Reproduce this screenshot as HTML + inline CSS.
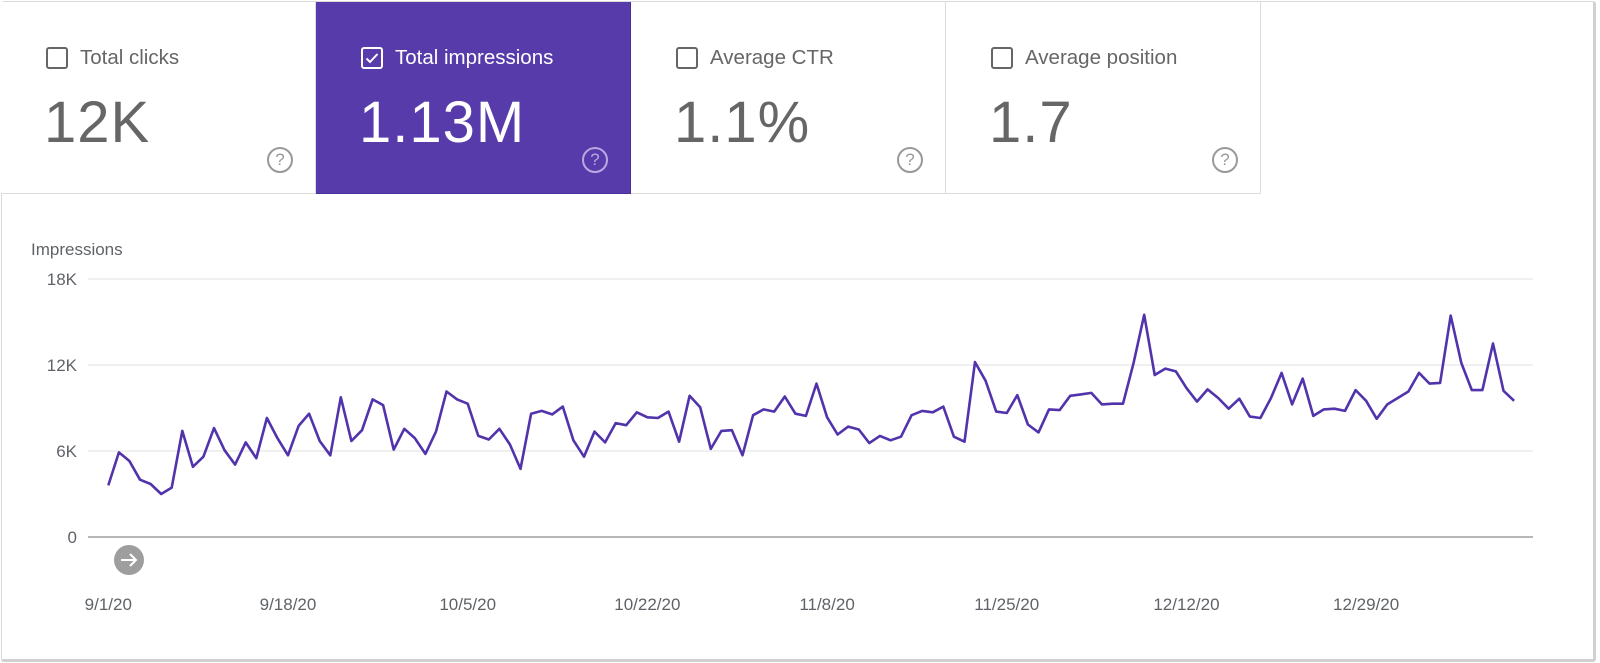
<!DOCTYPE html>
<html><head><meta charset="utf-8"><style>
*{margin:0;padding:0;box-sizing:border-box}
body{width:1600px;height:663px;background:#fff;font-family:"Liberation Sans",Arial,sans-serif;position:relative;overflow:hidden}
#frame{position:absolute;left:1px;top:1px;width:1595px;height:661px;border:1px solid #dadada;border-right:3px solid #d0d0d0;border-bottom:3px solid #d0d0d0;border-radius:3px}
.card{position:absolute;top:2px;height:192px;width:315px;border-right:1px solid #dcdcdc;border-bottom:1px solid #dcdcdc;background:#fff;color:#666}
.card.sel{background:#583bab;color:#fff;border-color:#4a2e9a}
.cb{position:absolute;left:45px;top:45px;width:22px;height:22px;border:2px solid #666;border-radius:3px}
.sel .cb{border-color:#fff}
.lbl{position:absolute;left:79px;top:44px;font-size:20.5px}
.val{position:absolute;left:43px;top:87px;font-size:58px;letter-spacing:1px}
.help{position:absolute;left:266px;top:145px;width:26px;height:26px;border:2px solid #999;border-radius:50%;text-align:center;font-size:17px;line-height:22px;color:#999}
.sel .help{border-color:#b9a8e2;color:#b9a8e2}
</style></head><body>
<div id="frame"></div>
<div class="card" style="left:1px"><div class="cb"></div><div class="lbl">Total clicks</div><div class="val">12K</div><div class="help">?</div></div>
<div class="card sel" style="left:316px"><div class="cb"><svg width="18" height="18" style="position:absolute;left:0;top:0"><path d="M3.5 9.5l3.5 3.5 7.5-8" stroke="#fff" stroke-width="2" fill="none"/></svg></div><div class="lbl">Total impressions</div><div class="val">1.13M</div><div class="help">?</div></div>
<div class="card" style="left:631px"><div class="cb"></div><div class="lbl">Average CTR</div><div class="val">1.1%</div><div class="help">?</div></div>
<div class="card" style="left:946px"><div class="cb"></div><div class="lbl">Average position</div><div class="val">1.7</div><div class="help">?</div></div>
<svg id="chart" width="1600" height="663" style="position:absolute;left:0;top:0" font-family="Liberation Sans, Arial, sans-serif">
<text x="31" y="255" font-size="17" fill="#5f6368">Impressions</text>
<g id="grid"></g><g id="xl"></g>
<polyline id="line" fill="none" stroke="#5133ab" stroke-width="2.6" stroke-linejoin="round"/>
<g><circle cx="129" cy="560" r="15" fill="#9e9e9e"/><path d="M121 560h15M130 554l6 6-6 6" stroke="#fff" stroke-width="2" fill="none"/></g>
</svg>
<script>
const yTicks=[0,6,12,18];
const yTickLabels=["0","6K","12K","18K"];
const xTickIndex=[0,17,34,51,68,85,102,119];
const xTickLabels=["9/1/20","9/18/20","10/5/20","10/22/20","11/8/20","11/25/20","12/12/20","12/29/20"];
const impressionsK=[3.6,5.9,5.3,4.0,3.7,3.0,3.45,7.4,4.9,5.6,7.6,6.05,5.05,6.6,5.5,8.3,6.9,5.7,7.75,8.6,6.7,5.7,9.75,6.7,7.45,9.6,9.2,6.1,7.55,6.9,5.8,7.35,10.15,9.6,9.3,7.05,6.8,7.55,6.45,4.75,8.6,8.8,8.55,9.1,
6.75,5.6,7.35,6.6,7.95,7.8,8.7,8.35,8.3,8.75,6.65,9.85,9.05,6.15,7.4,7.45,5.7,8.5,8.9,8.75,9.8,8.6,8.45,10.7,8.35,7.15,7.7,7.5,6.55,7.05,6.75,7.0,8.5,8.8,8.7,9.1,7.0,6.65,12.2,10.9,8.75,8.65,9.9,7.85,
7.3,8.9,8.85,9.85,9.95,10.05,9.25,9.3,9.3,12.15,15.5,11.3,11.75,11.55,10.4,9.45,10.3,9.7,8.95,9.65,8.4,8.3,9.7,11.45,9.25,11.05,8.45,8.9,8.95,8.8,10.25,9.5,8.25,9.25,9.7,10.15,11.45,10.7,10.75,15.45,12.15,10.25,10.25,13.5,10.2,9.5];
const NS="http://www.w3.org/2000/svg";
const x=i=>108.3+i*10.57;
const y=v=>537-v*(258/18);
const grid=document.getElementById('grid');
yTicks.forEach((t,k)=>{
 const l=document.createElementNS(NS,'line');
 
 
 l.setAttribute('x1',88);l.setAttribute('x2',1533);l.setAttribute('y1',y(t));l.setAttribute('y2',y(t));
 l.setAttribute('stroke',t===0?'#9e9e9e':'#e8e8e8');l.setAttribute('stroke-width',t===0?1.5:1.2);
 grid.appendChild(l);
 const tx=document.createElementNS(NS,'text');
 
 
 tx.setAttribute('x',77);tx.setAttribute('y',y(t)+6);tx.setAttribute('text-anchor','end');
 tx.setAttribute('font-size','17');tx.setAttribute('fill','#5f6368');tx.textContent=yTickLabels[k];
 grid.appendChild(tx);
});
const xl=document.getElementById('xl');
xTickIndex.forEach((ix,k)=>{
 const tx=document.createElementNS(NS,'text');
 
 
 tx.setAttribute('x',x(ix));tx.setAttribute('y',610);tx.setAttribute('text-anchor','middle');
 tx.setAttribute('font-size','17');tx.setAttribute('fill','#5f6368');tx.textContent=xTickLabels[k];
 xl.appendChild(tx);
});
document.getElementById('line').setAttribute('points',impressionsK.map((v,i)=>x(i).toFixed(1)+','+y(v).toFixed(1)).join(' '));
</script>
</body></html>
